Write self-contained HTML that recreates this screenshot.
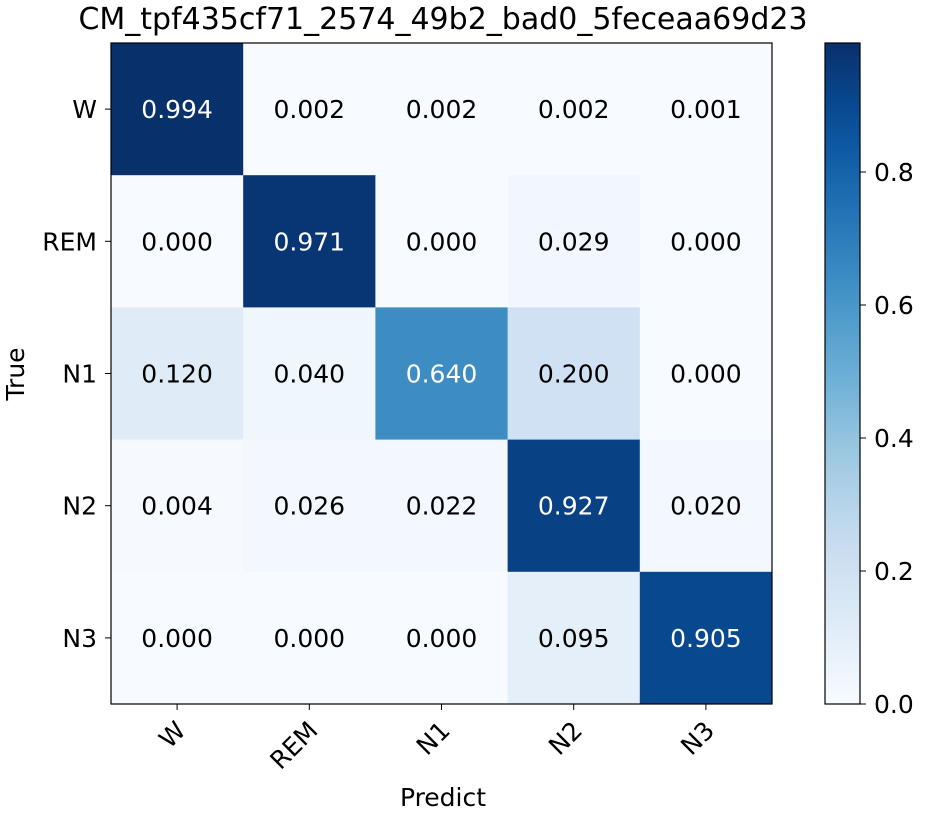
<!DOCTYPE html>
<html><head><meta charset="utf-8"><style>
body{margin:0;background:#fff;}
svg{font-family:"DejaVu Sans","Liberation Sans",sans-serif;}
</style></head><body>
<svg id="c" width="928" height="816" xmlns="http://www.w3.org/2000/svg"></svg>
<script>
const classes=["W","REM","N1","N2","N3"];
const row0=[0.994,0.002,0.002,0.002,0.001];
const row1=[0.000,0.971,0.000,0.029,0.000];
const row2=[0.120,0.040,0.640,0.200,0.000];
const row3=[0.004,0.026,0.022,0.927,0.020];
const row4=[0.000,0.000,0.000,0.095,0.905];
const cbTicks=[0.0,0.2,0.4,0.6,0.8];
const matrix=[row0,row1,row2,row3,row4];

const NS="http://www.w3.org/2000/svg";
const svg=document.getElementById('c');
function mk(t,a,txt){const e=document.createElementNS(NS,t);for(const k in a)e.setAttribute(k,a[k]);if(txt!==undefined)e.textContent=txt;svg.appendChild(e);return e;}
const blues=["#f7fbff","#deebf7","#c6dbef","#9ecae1","#6baed6","#4292c6","#2171b5","#08519c","#08306b"];
function hx(h){return [1,3,5].map(i=>parseInt(h.substr(i,2),16));}
function cmap(t){t=Math.max(0,Math.min(1,t));const p=t*8,i=Math.min(7,Math.floor(p)),f=p-i;const a=hx(blues[i]),b=hx(blues[i+1]);return "rgb("+a.map((v,k)=>Math.round(v+(b[k]-v)*f)).join(",")+")";}
const vmax=Math.max(...matrix.flat()),vmin=0;
const X0=111,Y0=43,W=661,H=661,n=classes.length,cw=W/n,ch=H/n;
const xs=j=>X0+j*cw, ys=i=>Y0+i*ch;
const FS=25;

const title=mk('text',{x:443,y:29,'text-anchor':'middle','font-size':30},"CM_tpf435cf71_2574_49b2_bad0_5feceaa69d23");



matrix.forEach((row,i)=>row.forEach((v,j)=>{
  const t=(v-vmin)/(vmax-vmin);
  const r=mk('rect',{x:xs(j),y:ys(i),width:cw+0.5,height:ch+0.5,fill:cmap(t)});
  
  
  const tx=mk('text',{x:xs(j)+cw/2,y:ys(i)+ch/2+9,'text-anchor':'middle','font-size':FS,fill:t>0.5?'#fff':'#000'},v.toFixed(3));
  
  
}));
const fr=mk('rect',{x:X0,y:Y0,width:W,height:H,fill:'none',stroke:'#000','stroke-width':1.2});



classes.forEach((c,i)=>{
  mk('line',{x1:X0-6,x2:X0,y1:ys(i)+ch/2,y2:ys(i)+ch/2,stroke:'#000'});
  const yl=mk('text',{x:X0-14,y:ys(i)+ch/2+9,'text-anchor':'end','font-size':FS},c);
  
  
  const cx=xs(i)+cw/2;
  mk('line',{x1:cx,x2:cx,y1:Y0+H,y2:Y0+H+6,stroke:'#000'});
  const xl=mk('text',{x:cx+10,y:Y0+H+28,'text-anchor':'end','font-size':FS,transform:'rotate(-45 '+(cx+10)+' '+(Y0+H+28)+')'},c);
  
  
});
const xt=mk('text',{x:443,y:806,'text-anchor':'middle','font-size':FS},"Predict");


const yt=mk('text',{x:24,y:374,'text-anchor':'middle','font-size':FS,transform:'rotate(-90 24 374)'},"True");



// colorbar
const defs=mk('defs',{});
const g=document.createElementNS(NS,'linearGradient');
g.setAttribute('id','cbg');g.setAttribute('x1','0');g.setAttribute('y1','1');g.setAttribute('x2','0');g.setAttribute('y2','0');
for(let k=0;k<=20;k++){const s=document.createElementNS(NS,'stop');s.setAttribute('offset',k/20);s.setAttribute('stop-color',cmap(k/20));g.appendChild(s);}
defs.appendChild(g);
const CX=825,CW=35;
const cb=mk('rect',{x:CX,y:Y0,width:CW,height:H,fill:'url(#cbg)',stroke:'#000','stroke-width':1.2});


cbTicks.forEach(v=>{
  const y=Y0+H-(v-vmin)/(vmax-vmin)*H;
  mk('line',{x1:CX+CW,x2:CX+CW+6,y1:y,y2:y,stroke:'#000'});
  const l=mk('text',{x:CX+CW+14,y:y+9,'font-size':FS},v.toFixed(1));
  
  
});
</script>
</body></html>
